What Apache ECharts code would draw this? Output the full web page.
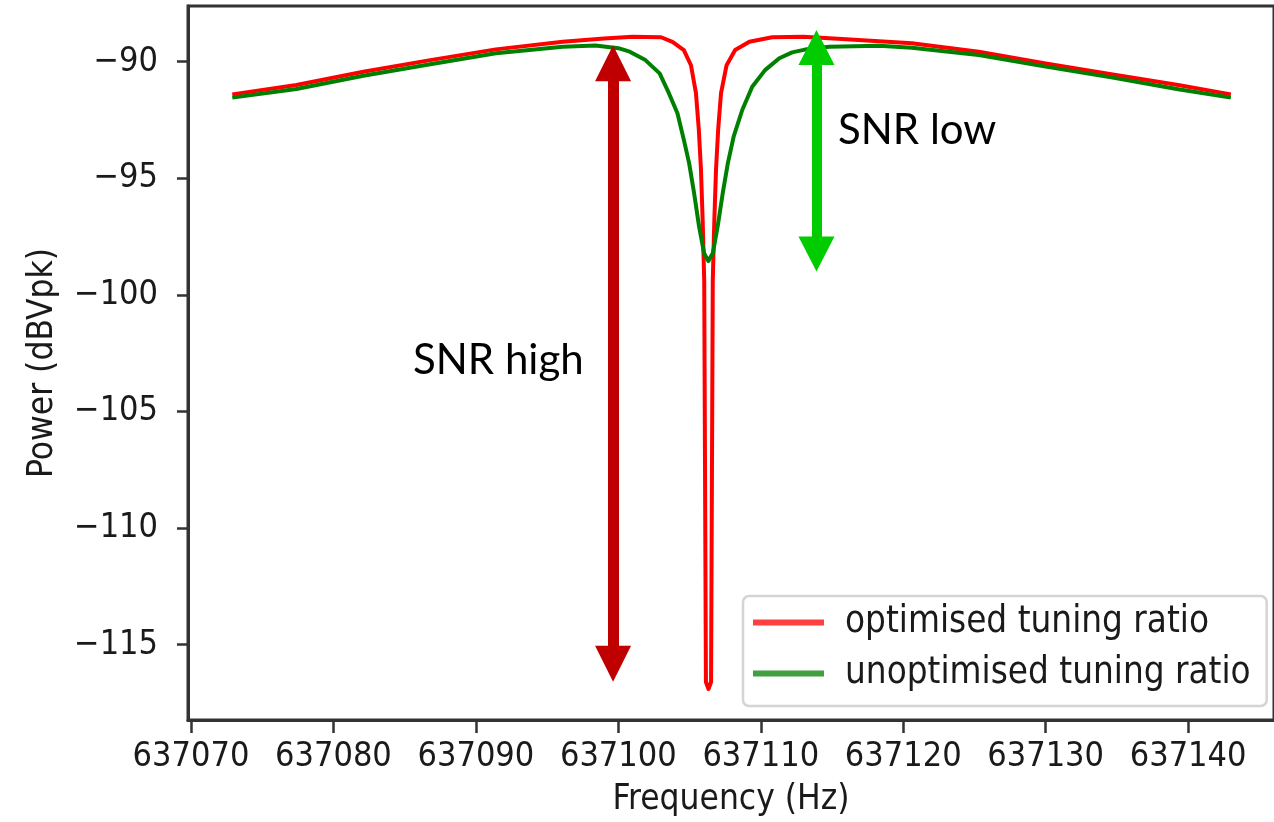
<!DOCTYPE html>
<html>
<head>
<meta charset="utf-8">
<script src="https://cdn.jsdelivr.net/npm/echarts@6/dist/echarts.min.js"></script>
<style>
html,body{margin:0;padding:0;background:#fff;}
#chart{width:1274px;height:822px;}
</style>
</head>
<body>
<div id="chart"></div>
<script>
// ---- data ----
const redFreq = [637072.9, 637077.4, 637082.1, 637086.8, 637091.4, 637096.1, 637099.0, 637101.0, 637103.0,
  637103.8, 637104.6, 637105.1, 637105.45, 637105.65, 637105.8, 637105.92, 637106.03, 637106.15, 637106.33,
  637106.51, 637106.63, 637106.74, 637106.86, 637107.01, 637107.21, 637107.6, 637108.2, 637109.2, 637110.8,
  637113.0, 637116.0, 637120.6, 637125.3, 637130.0, 637134.6, 637139.3, 637143.0];
const redPower = [-91.40, -91.00, -90.43, -89.93, -89.47, -89.14, -89.00, -88.93, -88.95,
  -89.15, -89.50, -90.15, -91.35, -92.90, -94.60, -96.80, -99.40, -116.6, -116.9,
  -116.6, -99.40, -96.80, -94.60, -92.90, -91.35, -90.15, -89.50, -89.14, -88.95,
  -88.93, -89.04, -89.21, -89.57, -90.07, -90.54, -91.00, -91.40];

const greenFreq = [637072.9, 637077.4, 637082.1, 637086.8, 637091.4, 637096.1, 637098.4, 637100.0, 637100.8,
  637101.9, 637102.9, 637103.55, 637104.15, 637104.6, 637104.97, 637105.32, 637105.67, 637106.02, 637106.32,
  637106.64, 637106.99, 637107.34, 637107.69, 637108.1, 637108.7, 637109.4, 637110.3, 637111.3, 637112.2,
  637113.1, 637114.8, 637118.3, 637120.6, 637125.3, 637130.0, 637134.6, 637139.3, 637143.0];
const greenPower = [-91.54, -91.17, -90.60, -90.11, -89.64, -89.36, -89.30, -89.42, -89.57,
  -89.93, -90.50, -91.35, -92.21, -93.35, -94.35, -95.64, -97.07, -98.21, -98.55,
  -98.20, -97.00, -95.60, -94.35, -93.20, -92.07, -91.07, -90.36, -89.85, -89.60,
  -89.48, -89.36, -89.31, -89.40, -89.71, -90.21, -90.67, -91.18, -91.54];

const seriesNames = ['optimised tuning ratio', 'unoptimised tuning ratio'];
const xTicks = [637070, 637080, 637090, 637100, 637110, 637120, 637130, 637140];
const yTicks = [-115, -110, -105, -100, -95, -90];

// annotation arrows (data coordinates of the two ends)
const redArrowFreq = 637099.63;
const redArrowPower = [-90.06, -115.82];
const greenArrowFreq = 637113.91;
const greenArrowPower = [-89.39, -98.25];
const annotations = ['SNR high', 'SNR low'];

// ---- chart ----
const zip = (xs, ys) => xs.map((x, i) => [x, ys[i]]);
const tickFont = '"DejaVu Sans Condensed", "DejaVu Sans", sans-serif';
const minusFmt = v => (v < 0 ? '\u2212' + Math.abs(v) : String(v));

const chart = echarts.init(document.getElementById('chart'), null, {renderer: 'canvas'});
chart.setOption({
  animation: false,
  backgroundColor: '#ffffff',
  grid: {
    left: 188, right: -2, top: 6, bottom: 101.3,
    show: true, borderColor: '#333333', borderWidth: 3, backgroundColor: 'transparent'
  },
  xAxis: {
    type: 'value',
    min: 637069.79, max: 637146.03,
    name: 'Frequency (Hz)',
    nameLocation: 'middle',
    nameGap: 62,
    nameTextStyle: {fontFamily: tickFont, fontSize: 35, color: '#1a1a1a'},
    axisLine: {show: true, onZero: false, lineStyle: {color: '#333333', width: 3}},
    axisTick: {show: true, length: 13, lineStyle: {color: '#333333', width: 2.5}, customValues: xTicks},
    axisLabel: {show: true, margin: 20, fontFamily: tickFont, fontSize: 34, color: '#1a1a1a',
      customValues: xTicks, formatter: v => String(v)},
    splitLine: {show: false}
  },
  yAxis: {
    type: 'value',
    min: -118.23, max: -87.61,
    name: 'Power (dBVpk)',
    nameLocation: 'middle',
    nameGap: 128,
    nameTextStyle: {fontFamily: tickFont, fontSize: 35, color: '#1a1a1a'},
    axisLine: {show: true, onZero: false, lineStyle: {color: '#333333', width: 3}},
    axisTick: {show: true, length: 11, lineStyle: {color: '#333333', width: 2.5}, customValues: yTicks},
    axisLabel: {show: true, margin: 30, fontFamily: tickFont, fontSize: 34, color: '#1a1a1a',
      customValues: yTicks, formatter: minusFmt},
    splitLine: {show: false}
  },
  legend: {
    show: true,
    orient: 'vertical',
    left: 743, top: 596,
    padding: [8, 16, 14, 10],
    itemGap: 14,
    itemWidth: 71,
    itemHeight: 6,
    icon: 'rect',
    backgroundColor: 'rgba(255,255,255,0.85)',
    borderColor: '#d4d4d4',
    borderWidth: 2.5,
    borderRadius: 6,
    textStyle: {fontFamily: tickFont, fontSize: 36.5, color: '#1a1a1a', padding: [0, 0, 0, 16]},
    data: [
      {name: seriesNames[0], itemStyle: {color: '#ff4040'}},
      {name: seriesNames[1], itemStyle: {color: '#40a040'}}
    ]
  },
  series: [
    {
      name: seriesNames[0],
      type: 'line',
      data: zip(redFreq, redPower),
      showSymbol: false,
      symbol: 'none',
      smooth: false,
      lineStyle: {color: '#ff0000', width: 4, join: 'round'},
      itemStyle: {color: '#ff0000'},
      z: 2,
      markLine: {
        silent: true,
        symbol: ['triangle', 'triangle'],
        symbolSize: [36, 36],
        label: {show: false},
        lineStyle: {color: '#c00000', width: 11, type: 'solid'},
        itemStyle: {color: '#c00000'},
        data: [[
          {coord: [redArrowFreq, redArrowPower[0]]},
          {coord: [redArrowFreq, redArrowPower[1]]}
        ]]
      }
    },
    {
      name: seriesNames[1],
      type: 'line',
      data: zip(greenFreq, greenPower),
      showSymbol: false,
      symbol: 'none',
      smooth: false,
      lineStyle: {color: '#008000', width: 4, join: 'round'},
      itemStyle: {color: '#008000'},
      z: 3,
      markLine: {
        silent: true,
        symbol: ['triangle', 'triangle'],
        symbolSize: [36, 35],
        label: {show: false},
        lineStyle: {color: '#00cc00', width: 10, type: 'solid'},
        itemStyle: {color: '#00cc00'},
        data: [[
          {coord: [greenArrowFreq, greenArrowPower[0]]},
          {coord: [greenArrowFreq, greenArrowPower[1]]}
        ]]
      }
    }
  ],
  graphic: [
    {type: 'text', left: 413, top: 339, z: 100,
      style: {text: annotations[0], fontFamily: 'Lato, "Open Sans", sans-serif', fontSize: 42, fill: '#000000'}},
    {type: 'text', left: 838, top: 109, z: 100,
      style: {text: annotations[1], fontFamily: 'Lato, "Open Sans", sans-serif', fontSize: 42, fill: '#000000'}}
  ]
});
</script>
</body>
</html>
